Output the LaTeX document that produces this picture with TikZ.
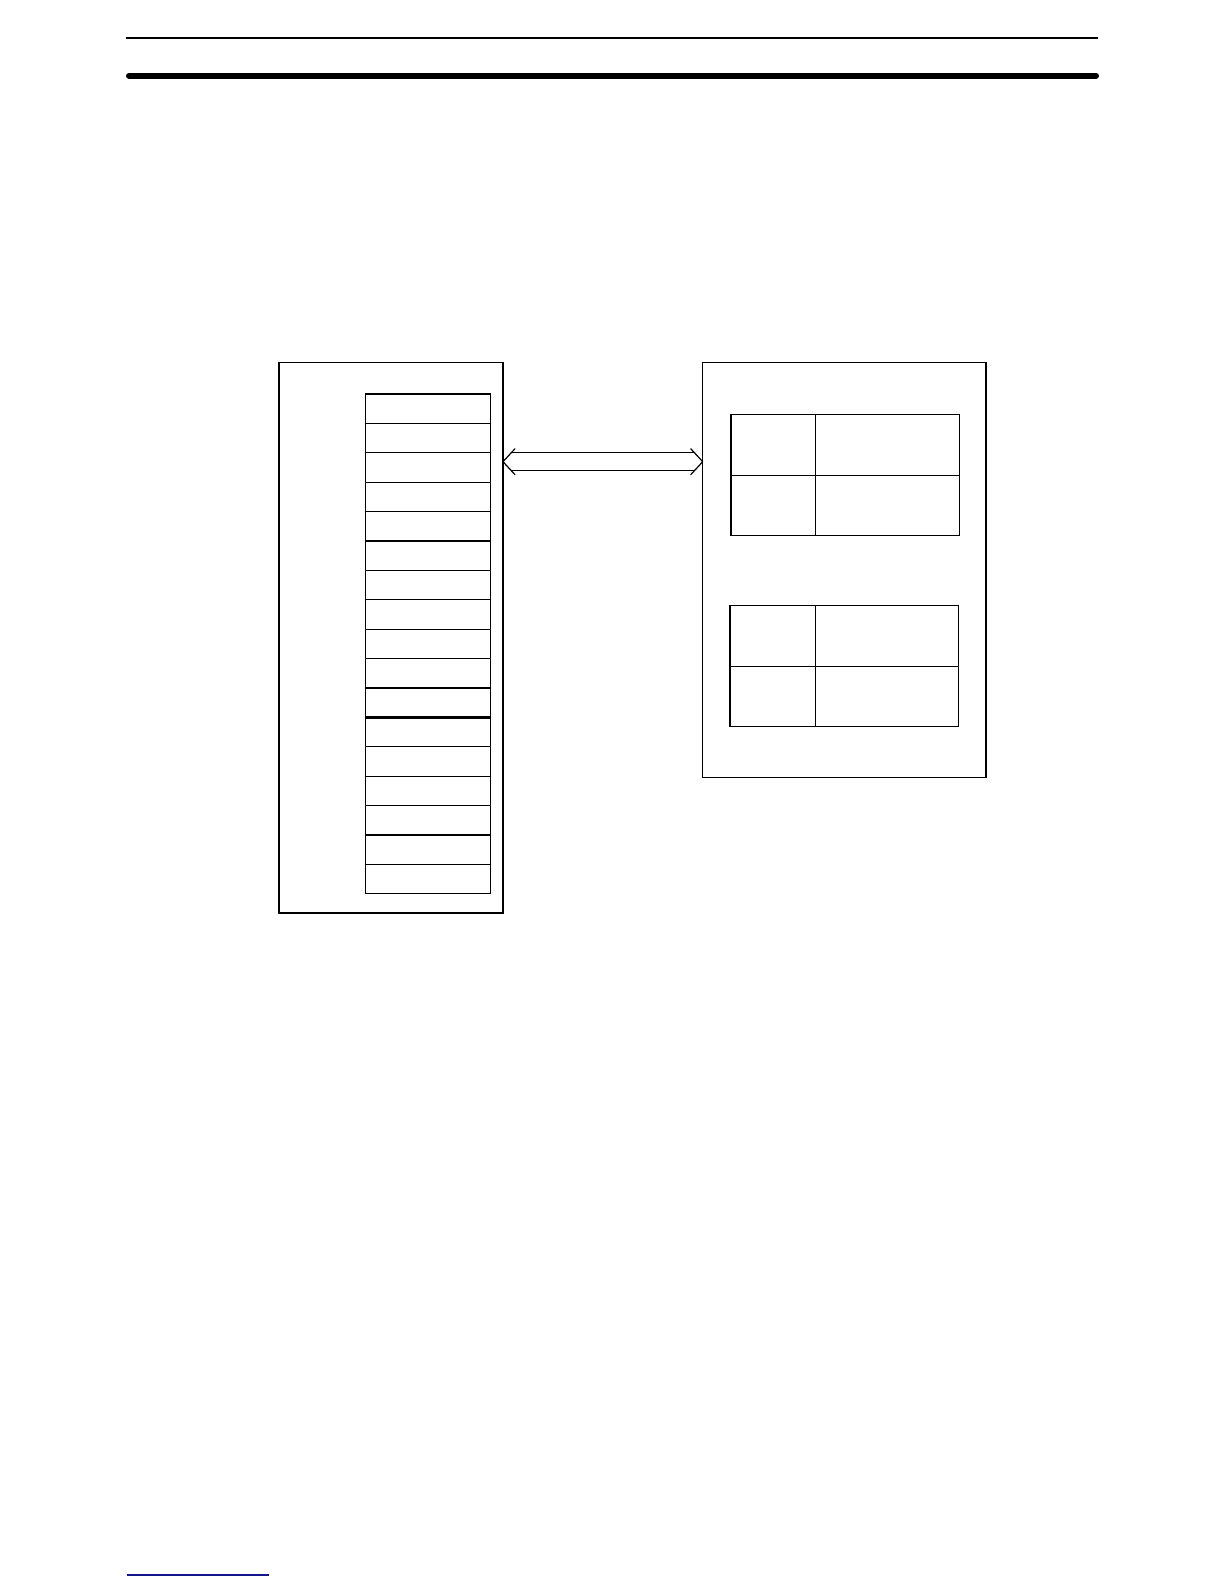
\documentclass[tikz,border=0pt]{standalone}
\usetikzlibrary{positioning,calc}
\definecolor{linkblue}{RGB}{20,20,140}
\tikzset{
	frame/.style={draw, line width=0.6pt, inner sep=0pt, outer sep=0pt, anchor=north west},
	slot/.style={draw, line width=0.6pt, inner sep=0pt, outer sep=0pt, minimum width=62.3pt, minimum height=14.7pt},
	field/.style={draw, line width=0.6pt, inner sep=0pt, outer sep=0pt, minimum height=30.25pt},
	bus/.style={line width=0.6pt, line cap=round, line join=round},
}
\begin{document}
\begin{tikzpicture}[x=0.5pt, y=-0.5pt]
	\useasboundingbox (0,0) rectangle (1224,1584);
	% page rules
	\draw[line width=0.85pt] (126,37.7) -- (1097.7,37.7);
	\draw[line width=3pt, line cap=round] (129,75.7) -- (1096,75.7);
	\draw[linkblue, line width=0.8pt] (127,1574.7) -- (269,1574.7);
	
	% left unit with its words
	\node[frame, minimum width=112pt, minimum height=275.15pt] (lbox) at (279,362.7) {};
	\node[slot, anchor=north west] (c1) at (365.7,394) {};
	\foreach \i [remember=\i as \j (initially 1)] in {2,...,17}
		\node[slot, below=0pt of c\j] (c\i) {};
	\draw[line width=1.1pt] (c11.south west) -- (c11.south east);
	
	% right unit with two tables
	\node[frame, minimum width=141.65pt, minimum height=207.3pt] (rbox) at (702.7,362.7) {};
	\node[field, anchor=north west, minimum width=42.4pt] (t1a) at (731,414.7) {};
	\node[field, right=0pt of t1a, minimum width=71.7pt] (t1b) {};
	\node[field, below=0pt of t1a, minimum width=42.4pt] (t1c) {};
	\node[field, right=0pt of t1c, minimum width=71.7pt] (t1d) {};
	
	\node[field, anchor=north west, minimum width=42.6pt] (t2a) at (730,605.7) {};
	\node[field, right=0pt of t2a, minimum width=71.7pt] (t2b) {};
	\node[field, below=0pt of t2a, minimum width=42.6pt] (t2c) {};
	\node[field, right=0pt of t2c, minimum width=71.7pt] (t2d) {};
	
	% double arrow between the units
	\coordinate (ya) at (0,461.7);
	\coordinate (al) at (lbox.east |- ya);
	\coordinate (ar) at (rbox.west |- ya);
	\draw[bus] ($(al)+(12,-13)$) -- (al) -- ($(al)+(12,13)$);
	\draw[bus] ($(ar)+(-12,-13)$) -- (ar) -- ($(ar)+(-12,13)$);
	\draw[bus] ($(al)+(8.3,-9)$) -- ($(ar)+(-8.3,-9)$);
	\draw[bus] ($(al)+(8.3,9)$) -- ($(ar)+(-8.3,9)$);
\end{tikzpicture}
\end{document}
